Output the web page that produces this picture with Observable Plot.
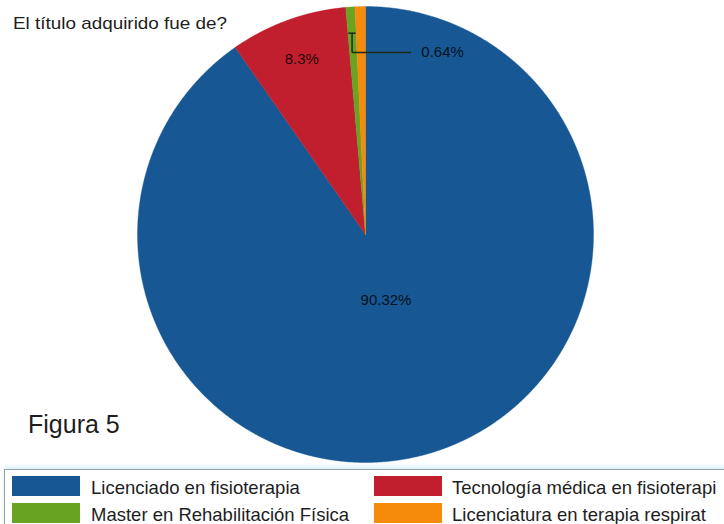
<!DOCTYPE html>
<html>
<head>
<meta charset="utf-8">
<script src="https://cdn.jsdelivr.net/npm/d3@7"></script>
<script src="https://cdn.jsdelivr.net/npm/@observablehq/plot@0.6"></script>
<style>
  html, body { margin: 0; padding: 0; background: #fff; }
  body { width: 724px; height: 524px; overflow: hidden; position: relative;
         font-family: "Liberation Sans", Arial, sans-serif; color: #1e1e1e; }
  #chart { position: absolute; left: 0; top: 0; }
  .abs { position: absolute; white-space: nowrap; transform-origin: 0 0; }
  #title { left: 13px; top: 14.6px; font-size: 17px; line-height: 17px; transform: scaleX(1.11); }
  #fig { left: 28px; top: 411.8px; font-size: 25px; line-height: 25px; }
  #legend { position: absolute; left: 4px; top: 469px; width: 740px; height: 70px;
            border: 1px solid #8fa2a4; box-shadow: 0 -3px 4px rgba(160, 215, 235, 0.35); background: #fff; }
  .sw { position: absolute; width: 68px; height: 20px; }
  .lt { position: absolute; font-size: 18.5px; line-height: 18.5px; white-space: nowrap; }
</style>
</head>
<body>
<div id="chart"></div>
<div id="title" class="abs"></div>
<div id="fig" class="abs"></div>
<script>
const titleText = "El título adquirido fue de?";
const figureText = "Figura 5";
const categories = [
  "Licenciado en fisioterapia",
  "Tecnología médica en fisioterapi",
  "Master en Rehabilitación Física",
  "Licenciatura en terapia respirat"
];
const values = [90.32, 8.3, 0.64, 0.74];
const labels = ["90.32%", "8.3%", "0.64%", ""];
const colors = ["#175894", "#c11f2e", "#69a322", "#f58a0b"];

const data = categories.map((c, i) => ({name: c, value: values[i], label: labels[i]}));
const arcs = d3.pie().sort(null).value(d => d.value)(data);

// polygon outline for every slice
const slicePts = [];
arcs.forEach(a => {
  const n = Math.max(2, Math.ceil((a.endAngle - a.startAngle) / 0.004));
  slicePts.push({name: a.data.name, x: 0, y: 0});
  for (let i = 0; i <= n; i++) {
    const t = a.startAngle + (a.endAngle - a.startAngle) * i / n;
    slicePts.push({name: a.data.name, x: Math.sin(t), y: Math.cos(t)});
  }
  slicePts.push({name: a.data.name, x: 0, y: 0});
});

const polar = (ang, r) => ({x: r * Math.sin(ang), y: r * Math.cos(ang)});
const mid = a => (a.startAngle + a.endAngle) / 2;

// inside labels (large slices)
const inside = arcs.filter(a => a.data.label && a.data.value > 5).map(a => {
  const p = polar(mid(a), a.data.value > 50 ? 0.3 : 0.82);
  return {...p, label: a.data.label};
});
// outside label with leader (small slice)
const small = arcs.filter(a => a.data.label && a.data.value <= 5).map(a => {
  const anchor = polar(mid(a), 0.885);
  const elbowY = anchor.y - 0.085;
  return {anchor, elbow: {x: anchor.x, y: elbowY}, end: {x: 0.2, y: elbowY},
          text: {x: 0.245, y: elbowY}, label: a.data.label};
});
const leaderSegs = [];
small.forEach(s => {
  leaderSegs.push({x1: s.anchor.x - 0.016, y1: s.anchor.y, x2: s.anchor.x + 0.016, y2: s.anchor.y});
  leaderSegs.push({x1: s.anchor.x, y1: s.anchor.y, x2: s.elbow.x, y2: s.elbow.y});
  leaderSegs.push({x1: s.elbow.x, y1: s.elbow.y, x2: s.end.x, y2: s.end.y});
});

const chart = Plot.plot({
  width: 724,
  height: 467,
  marginLeft: 137, marginRight: 131, marginTop: 6, marginBottom: 5,
  x: {domain: [-1, 1], axis: null},
  y: {domain: [-1, 1], axis: null},
  color: {domain: categories, range: colors},
  style: {background: "transparent", fontFamily: "'Liberation Sans', Arial, sans-serif"},
  marks: [
    Plot.line(slicePts, {x: "x", y: "y", z: "name", fill: "name", stroke: "name", strokeWidth: 0.4, curve: "linear"}),
    Plot.text(inside, {x: "x", y: "y", text: "label", fontSize: 15, fill: "#000", fillOpacity: 0.85}),
    Plot.link(leaderSegs, {x1: "x1", y1: "y1", x2: "x2", y2: "y2", stroke: "#1c2a18", strokeWidth: 1.5}),
    Plot.text(small, {x: d => d.text.x, y: d => d.text.y, text: "label", textAnchor: "start", fontSize: 15, fill: "#000", fillOpacity: 0.85})
  ]
});
document.getElementById("chart").appendChild(chart);

document.getElementById("title").textContent = titleText;
document.getElementById("fig").textContent = figureText;

// legend
const lg = document.createElement("div");
lg.id = "legend";
document.body.appendChild(lg);
const colX = [[12, 91], [374, 452]];
const rowY = [[476, 479.3], [503, 506.3]];
[0, 1, 2, 3].forEach((k, i) => {
  const col = i % 2, row = Math.floor(i / 2);
  const sw = document.createElement("div");
  sw.className = "sw";
  sw.style.left = (colX[col][0] - 5) + "px";
  sw.style.top = (rowY[row][0] - 470) + "px";
  sw.style.background = colors[k];
  lg.appendChild(sw);
  const t = document.createElement("div");
  t.className = "lt";
  t.style.left = (colX[col][1] - 5) + "px";
  t.style.top = (rowY[row][1] - 470) + "px";
  t.textContent = categories[k];
  lg.appendChild(t);
});
</script>
</body>
</html>
